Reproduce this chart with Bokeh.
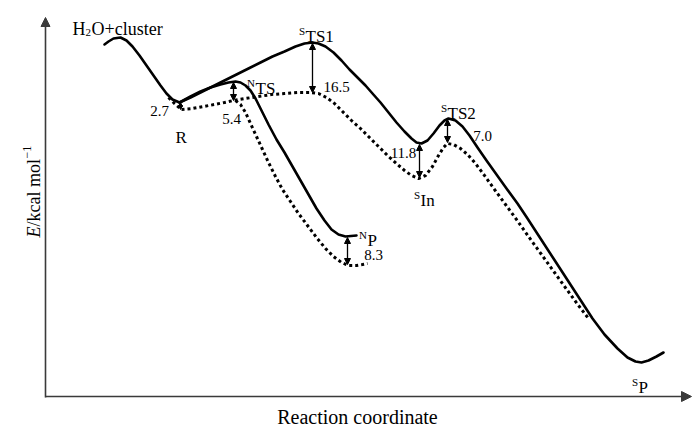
import math
from bokeh.plotting import figure
from bokeh.models import Range1d, Arrow, NormalHead, ColumnDataSource
from bokeh.core.properties import value
from bokeh.embed import file_html
from bokeh.resources import INLINE

# ---- curves (reaction coordinate, energy; screen-like units, y grows downward) ----
entry_x = [104, 108, 113, 120, 126, 132, 139, 146, 153, 160, 166, 172, 179]
entry_y = [44, 41, 38, 37, 40, 46, 55, 65, 75, 85, 93, 99, 102]

sing_x = [179, 190, 200, 212, 224, 236, 248, 260, 272, 284, 295, 304, 312, 318, 325, 333, 341, 349, 357,
          365, 372, 380, 388, 396, 404, 411, 416, 421, 427, 433, 439, 444, 448, 455, 462, 469, 477, 486,
          496, 506, 517, 527, 540, 553, 566, 579, 592, 604, 617, 627, 635, 641, 648, 656, 663]
sing_y = [102, 97, 92, 86, 80, 74, 68, 62, 56, 51, 46, 43, 42, 43, 46, 52, 60, 69, 77,
          85, 93, 102, 112, 122, 131, 138, 142, 143, 140, 133, 125, 120, 118, 120, 126, 135, 147, 160,
          174, 188, 203, 218, 238, 258, 278, 298, 318, 334, 348, 357, 361, 362, 360, 356, 352]

nts_x = [179, 190, 200, 210, 220, 228, 235, 240, 245, 250, 255, 261, 268, 276, 284, 292, 300, 308, 316,
         324, 331, 338, 345, 356]
nts_y = [102, 96, 91, 87, 84, 82, 81, 82, 85, 90, 98, 110, 124, 139, 152, 166, 180, 194, 208,
         220, 229, 234, 236, 235]

trip_x = [181, 192, 203, 214, 224, 233, 245, 258, 271, 284, 297, 310, 318, 326, 334, 342, 351, 360, 369,
          378, 387, 396, 404, 411, 418, 425, 432, 438, 443, 447, 453, 460, 467, 475, 484, 494, 505, 516,
          528, 541, 554, 567, 578, 588]
trip_y = [109, 108, 106, 104, 102, 100, 98, 96, 94, 93, 92, 92, 93, 97, 103, 111, 120, 128, 137,
          146, 155, 163, 170, 175, 178, 175, 166, 155, 147, 143, 144, 148, 154, 163, 175, 189, 204, 219,
          236, 254, 272, 290, 305, 318]

stub_x = [168, 174, 181]
stub_y = [97, 103, 109]

tn_x = [235, 240, 245, 250, 256, 262, 268, 275, 282, 290, 298, 307, 316, 325, 333, 341, 348, 356, 362, 367]
tn_y = [100, 104, 112, 123, 136, 149, 162, 176, 189, 201, 213, 225, 237, 248, 256, 262, 265, 265, 264, 263]

# ---- energy gaps ----
gap_val = ["2.7", "5.4", "16.5", "11.8", "7.0", "8.3"]
gap_x = [180, 233, 312, 419, 447, 347]
gap_top = [102, 82, 43, 144, 119, 237]
gap_bot = [109, 100, 92, 177, 142, 264]
gap_lx = [159, 231, 336, 403, 482, 373]
gap_ly = [110, 118, 86, 152, 135, 254]

# ---- state labels ----
state_sup = ["", "N", "S", "S", "S", "N", "S"]
state_main = ["R", "TS", "TS1", "TS2", "In", "P", "P"]
state_x = [175, 255, 305, 447, 420, 367, 638]
state_y = [137, 88, 36, 113, 200, 240, 387]

FONT = value("Liberation Serif")

p = figure(width=692, height=426, x_range=Range1d(0, 692), y_range=Range1d(426, 0),
           output_backend="svg", toolbar_location=None,
           x_axis_location=None, y_axis_location=None, min_border=0)
p.outline_line_color = None
p.grid.visible = False
p.background_fill_color = "white"
p.border_fill_color = "white"

AX = "#3a3a3a"
p.add_layout(Arrow(x_start=45, y_start=397, x_end=45, y_end=17, line_color=AX, line_width=1.6,
                   end=NormalHead(size=9, fill_color=AX, line_color=AX)))
p.add_layout(Arrow(x_start=45, y_start=396, x_end=691, y_end=396, line_color=AX, line_width=1.6,
                   end=NormalHead(size=10, fill_color=AX, line_color=AX)))

for xs, ys in [(entry_x, entry_y), (sing_x, sing_y), (nts_x, nts_y)]:
    p.line(xs, ys, line_color="black", line_width=2.6, line_join="round", line_cap="round")
for xs, ys in [(trip_x, trip_y), (stub_x, stub_y), (tn_x, tn_y)]:
    p.line(xs, ys, line_color="black", line_width=3, line_dash="3 3")

big = ColumnDataSource(dict(x=gap_x[1:], y0=gap_top[1:], y1=gap_bot[1:]))
p.add_layout(Arrow(x_start="x", y_start="y0", x_end="x", y_end="y1", source=big,
                   line_width=1.3, start=NormalHead(size=6), end=NormalHead(size=6)))
small = ColumnDataSource(dict(x=gap_x[:1], y0=gap_top[:1], y1=gap_bot[:1]))
p.add_layout(Arrow(x_start="x", y_start="y0", x_end="x", y_end="y1", source=small,
                   line_width=1.3, start=NormalHead(size=4), end=NormalHead(size=4)))

p.text(gap_lx, gap_ly, text=gap_val, text_font=FONT, text_font_size="15px",
       text_align="center", text_baseline="middle", text_color="black")

p.text(state_x, state_y, text=state_main, text_font=FONT, text_font_size="17px",
       text_align="left", text_baseline="alphabetic", text_color="black")
p.text([x - 0.5 for x in state_x], [y - 6 for y in state_y], text=state_sup, text_font=FONT,
       text_font_size="11px", text_align="right", text_baseline="alphabetic", text_color="black")

# H2O+cluster
p.text([72], [28], text=["H"], text_font=FONT, text_font_size="18px", text_baseline="alphabetic")
p.text([85], [32], text=["2"], text_font=FONT, text_font_size="11px", text_baseline="alphabetic")
p.text([91], [28], text=["O+cluster"], text_font=FONT, text_font_size="18px", text_baseline="alphabetic")

# axis titles
p.text([357], [416], text=["Reaction coordinate"], text_font=FONT, text_font_size="20px",
       text_align="center", text_baseline="alphabetic")
p.text([33], [237], text=["E"], text_font=FONT, text_font_style="italic", text_font_size="18px",
       angle=math.pi / 2, text_baseline="alphabetic")
p.text([33], [226], text=["/kcal mol"], text_font=FONT, text_font_size="18px",
       angle=math.pi / 2, text_baseline="alphabetic")
p.text([26], [158], text=["\u22121"], text_font=FONT, text_font_size="12px",
       angle=math.pi / 2, text_baseline="alphabetic")

open("out.html", "w").write(file_html(p, INLINE))
